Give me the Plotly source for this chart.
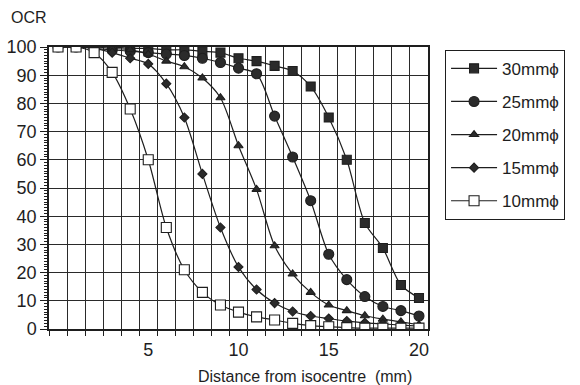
import plotly.graph_objects as go

distance = list(range(21))
x_tick_vals = [5, 10, 15, 20]
x_tick_text = ["5", "10", "15", "20"]
y_tick_vals = [0, 10, 20, 30, 40, 50, 60, 70, 80, 90, 100]

ocr_30 = [100, 100, 100, 100, 99.5, 99.5, 99, 99, 98.5, 98, 96, 95, 93.3, 91.5, 86, 75, 60, 37.6, 28.7, 15.6, 11]
ocr_25 = [100, 100, 99.5, 99, 98.5, 98, 97.5, 97, 96, 94.5, 92.5, 90.5, 75.5, 61, 45.5, 26.5, 17.5, 11.5, 8, 6.5, 4.6]
ocr_20 = [100, 100, 100, 99.5, 99, 97.5, 95, 93, 89, 82, 65, 49.5, 29.5, 19.5, 13, 8.5, 6.5, 4.7, 3.5, 2.5, 1.5]
ocr_15 = [100, 100, 99.5, 98, 96, 94, 87, 75, 55, 36, 22, 14, 9.2, 6.2, 4.6, 3.7, 2.8, 2.2, 1.8, 1.4, 1.0]
ocr_10 = [100, 100, 98, 91, 78, 60, 36, 21, 13, 8.5, 6, 4.3, 3.2, 2, 1.2, 0.8, 0.5, 0.3, 0.3, 0.3, 0.3]

series = [
    ("30mmϕ", ocr_30, "square", 9, "#2b2b2b"),
    ("25mmϕ", ocr_25, "circle", 10, "#2b2b2b"),
    ("20mmϕ", ocr_20, "triangle-up", 8, "#2b2b2b"),
    ("15mmϕ", ocr_15, "diamond", 7, "#2b2b2b"),
    ("10mmϕ", ocr_10, "square", 10, "white"),
]

FONT = "Liberation Sans, Arial, sans-serif"
INK = "#1e1e1e"

fig = go.Figure()
for i, (name, vals, sym, size, fill) in enumerate(series):
    fig.add_trace(go.Scatter(
        x=distance, y=vals, name=name, mode="lines+markers",
        line=dict(color=INK, width=1.2, shape="spline", smoothing=0.8),
        marker=dict(symbol=sym, size=size, color=fill, line=dict(color=INK, width=1.1)),
        legendgroup=str(i),
    ))

fig.update_layout(
    width=580, height=385,
    margin=dict(l=49, r=152, t=47, b=56),
    paper_bgcolor="white", plot_bgcolor="white",
    font=dict(family=FONT, color=INK, size=16),
    showlegend=True,
    legend=dict(
        x=1.045, y=0.99, xanchor="left", yanchor="top",
        bordercolor=INK, borderwidth=1, bgcolor="white",
        font=dict(size=17, family=FONT, color=INK),
        traceorder="grouped", tracegroupgap=8, itemwidth=46,
    ),
    xaxis=dict(
        range=[-0.5, 20.5], tickmode="array", tickvals=x_tick_vals, ticktext=x_tick_text,
        ticks="", showgrid=False, zeroline=False, automargin=False,
        showline=True, linecolor=INK, linewidth=1.5, mirror=True,
        tickfont=dict(size=18, family=FONT, color=INK),
        ticklabelstandoff=4,
        minor=dict(tickmode="linear", tick0=0.5, dtick=1, showgrid=True, gridcolor="#2a2a2a",
                   gridwidth=1, ticks="outside", ticklen=5, tickcolor=INK),
    ),
    yaxis=dict(
        range=[0, 100], tickmode="array", tickvals=y_tick_vals,
        ticks="outside", ticklen=7, tickcolor=INK, automargin=False,
        showgrid=True, gridcolor="#2a2a2a", gridwidth=1, zeroline=False,
        showline=True, linecolor=INK, linewidth=1.5, mirror=True,
        tickfont=dict(size=18, family=FONT, color=INK),
        minor=dict(tickmode="linear", tick0=0, dtick=1, ticks="outside", ticklen=3,
                   tickcolor=INK, showgrid=False),
    ),
    annotations=[
        dict(text="OCR", x=-0.105, y=1.105, xref="paper", yref="paper",
             xanchor="left", yanchor="middle", showarrow=False,
             font=dict(size=16, family=FONT, color=INK)),
        dict(text="Distance from isocentre  (mm)", x=0.675, y=-0.167, xref="paper", yref="paper",
             xanchor="center", yanchor="middle", showarrow=False,
             font=dict(size=16, family=FONT, color=INK)),
    ],
)

fig.write_html(
    "out.html",
    config={"displayModeBar": False},
    post_script="document.body.style.margin='0';document.body.style.overflow='hidden';",
)
